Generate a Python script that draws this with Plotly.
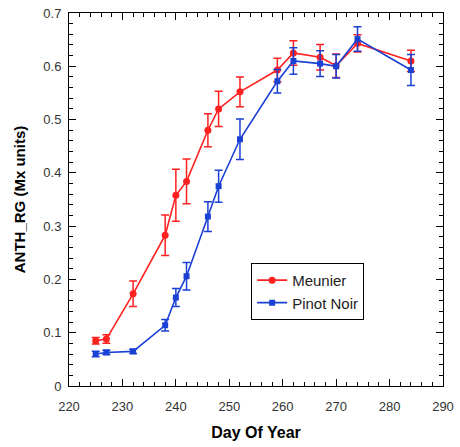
import plotly.graph_objects as go

days = [225, 227, 232, 238, 240, 242, 246, 248, 252, 259, 262, 267, 270, 274, 284]
meunier = [0.085, 0.088, 0.173, 0.283, 0.358, 0.384, 0.480, 0.520, 0.552, 0.593, 0.625, 0.617, 0.601, 0.643, 0.610]
meunier_err = [0.006, 0.008, 0.024, 0.038, 0.049, 0.042, 0.031, 0.033, 0.028, 0.022, 0.023, 0.024, 0.022, 0.016, 0.020]
pinot = [0.060, 0.063, 0.065, 0.114, 0.166, 0.206, 0.318, 0.375, 0.463, 0.572, 0.610, 0.605, 0.600, 0.651, 0.593]
pinot_err = [0.005, 0.004, 0.004, 0.011, 0.017, 0.026, 0.028, 0.030, 0.038, 0.022, 0.025, 0.024, 0.022, 0.023, 0.029]

RED = "#ff2020"
BLUE = "#1a40d4"

fig = go.Figure()
fig.add_trace(go.Scatter(
    x=days, y=meunier, name="Meunier", mode="lines+markers",
    line=dict(color=RED, width=1.6),
    marker=dict(symbol="circle", size=7, color=RED),
    error_y=dict(type="data", array=meunier_err, color=RED, thickness=1.5, width=4),
))
fig.add_trace(go.Scatter(
    x=days, y=pinot, name="Pinot Noir", mode="lines+markers",
    line=dict(color=BLUE, width=1.6),
    marker=dict(symbol="square", size=6, color=BLUE),
    error_y=dict(type="data", array=pinot_err, color=BLUE, thickness=1.5, width=4),
))

axis_common = dict(
    showgrid=False, zeroline=False, showline=True, linecolor="black", linewidth=1,
    mirror="ticks", ticks="inside", ticklen=7, tickcolor="black", tickwidth=1,
    tickfont=dict(family="Liberation Sans, Arial, sans-serif", size=13, color="#333333"),
    automargin=False,
)

fig.update_layout(
    width=460, height=447,
    margin=dict(l=69, r=17, t=13, b=61),
    paper_bgcolor="white", plot_bgcolor="white",
    font=dict(family="Liberation Sans, Arial, sans-serif", color="black"),
    xaxis=dict(
        range=[220, 290], dtick=10, tick0=220,
        minor=dict(dtick=2, ticks="inside", ticklen=4, tickcolor="black", showgrid=False),
        title=dict(text="<b>Day Of Year</b>", font=dict(size=16), standoff=14),
        ticklabelstandoff=8,
        **axis_common,
    ),
    yaxis=dict(
        range=[0, 0.7], dtick=0.1, tick0=0,
        minor=dict(dtick=0.02, ticks="inside", ticklen=4, tickcolor="black", showgrid=False),
        title=dict(text="<b>ANTH_RG (Mx units)</b>", font=dict(size=15), standoff=14),
        ticklabelstandoff=4,
        **axis_common,
    ),
    legend=dict(
        x=0.487, y=0.33, xanchor="left", yanchor="top",
        bordercolor="black", borderwidth=1, bgcolor="white",
        font=dict(size=15, color="#222222"),
        tracegroupgap=0, itemwidth=30,
    ),
    showlegend=True,
)

fig.write_html("out.html")
